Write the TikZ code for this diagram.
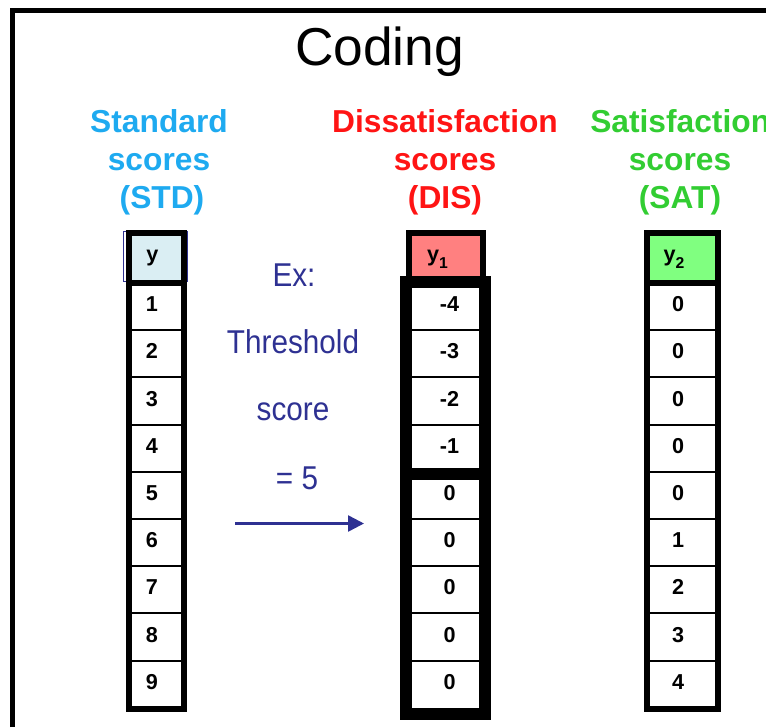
\documentclass[tikz,border=0pt]{standalone}
\usepackage{fontspec}
\setmainfont{Liberation Sans}
\newfontfamily\narrowsans[FakeStretch=0.9]{Liberation Sans}
\usetikzlibrary{arrows.meta}

\definecolor{stdblue}{RGB}{30,170,240}
\definecolor{disred}{RGB}{255,20,20}
\definecolor{satgreen}{RGB}{50,205,50}
\definecolor{stdfill}{RGB}{218,238,243}
\definecolor{disfill}{RGB}{255,128,128}
\definecolor{satfill}{RGB}{128,255,128}
\definecolor{navy}{RGB}{46,49,146}

\tikzset{
  frameline/.style={line width=4.5pt},
  heavyline/.style={line width=9pt},
  rowline/.style={line width=1.5pt},
  head/.style={font=\bfseries\fontsize{23.8}{28}\selectfont, anchor=base, inner sep=0pt},
  cell/.style={font=\bfseries\fontsize{16.2}{18}\selectfont, anchor=base, inner sep=0pt},
  note/.style={font=\narrowsans\fontsize{24.75}{28}\selectfont, text=navy, anchor=base, inner sep=0pt},
}

\newcommand{\subidx}[1]{\raisebox{-5.25pt}{\fontsize{11.8}{12}\selectfont #1}}

\begin{document}
\begin{tikzpicture}[x=0.75pt, y=-0.75pt]
\useasboundingbox (0,0) rectangle (766,727);

% outer frame (left and top edges)
\draw[line width=3.75pt] (12.5,727) -- (12.5,10.8) -- (766,10.8);

% title
\node[anchor=base, inner sep=0pt, font=\fontsize{40}{44}\selectfont] (title) at (379.5,66) {Coding};

% column headings
\node[head, text=stdblue] (stdA) at (159,133) {Standard};
\node[head, text=stdblue] (stdB) at (159,171) {scores};
\node[head, text=stdblue] (stdC) at (162,209) {(STD)};
\node[head, text=disred] (disA) at (445,133) {Dissatisfaction};
\node[head, text=disred] (disB) at (445,171) {scores};
\node[head, text=disred] (disC) at (445,209) {(DIS)};
\node[head, text=satgreen, anchor=base west] (satA) at (590,133) {Satisfaction};
\node[head, text=satgreen] (satB) at (680,171) {scores};
\node[head, text=satgreen] (satC) at (680,209) {(SAT)};

% ---- STD column ----
\draw[navy, line width=0.75pt] (123,231.5) rectangle (187.5,281);
\draw[frameline, fill=stdfill] (128.5,233) rectangle (184,283);
\draw[frameline] (128.5,283) rectangle (184,709);
\foreach \k in {1,...,8}
  \draw[rowline] (131,{283+47.2*\k}) -- (181,{283+47.2*\k});
\node[cell] (stdhead) at (152.5,261) {y};
\foreach \v [count=\i] in {1,2,3,4,5,6,7,8,9}
  \node[cell] (std\i) at (152,{283+47.2*\i-18.5}) {\v};

% ---- DIS column ----
\draw[frameline, fill=disfill] (409,233) rectangle (482.7,283);
\draw[heavyline] (406,281.5) rectangle (485,474);
\draw[heavyline] (406,474) rectangle (485,714);
\foreach \k in {1,2,3,5,6,7,8}
  \draw[rowline] (411,{283+47.2*\k}) -- (480,{283+47.2*\k});
\node[cell] (dishead) at (437.5,261) {y\subidx{1}};
\foreach \v [count=\i] in {-4,-3,-2,-1,0,0,0,0,0}
  \node[cell] (dis\i) at (449.5,{283+47.2*\i-18.5}) {\v};

% ---- SAT column ----
\draw[frameline, fill=satfill] (646.7,233) rectangle (718.3,283);
\draw[frameline] (646.7,283) rectangle (718.3,709);
\foreach \k in {1,...,8}
  \draw[rowline] (649,{283+47.2*\k}) -- (716,{283+47.2*\k});
\node[cell] (sathead) at (674,261) {y\subidx{2}};
\foreach \v [count=\i] in {0,0,0,0,0,1,2,3,4}
  \node[cell] (sat\i) at (678,{283+47.2*\i-18.5}) {\v};

% ---- threshold note and arrow ----
\node[note] (ex) at (294,286.7) {Ex:};
\node[note] (thr) at (293,353) {Threshold};
\node[note] (scr) at (293,420) {score};
\node[note] (eq) at (297,489) {= 5};
\coordinate (arrowtail) at (235,523.5);
\coordinate (arrowtip) at (364,523.5);
\draw[navy, line width=1.9pt, -{Triangle[length=12pt,width=12pt]}] (arrowtail) -- (arrowtip);
\end{tikzpicture}
\end{document}
